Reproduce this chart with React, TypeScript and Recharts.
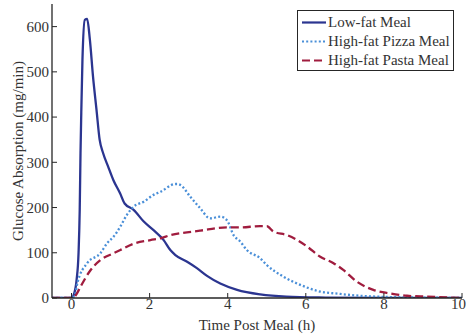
import React from "react";
import { LineChart, Line, XAxis, YAxis, Legend } from "recharts";

// Time after the meal (h) and glucose absorption rate (mg/min) for each meal
const lowFatTime = [-0.5, 0, 0.06, 0.13, 0.18, 0.21, 0.23, 0.25, 0.28, 0.34, 0.4, 0.47, 0.55, 0.64, 0.72, 0.81, 0.94, 1.07, 1.24, 1.36, 1.59, 1.85, 2.1, 2.36, 2.53, 2.66, 2.96, 3.21, 3.47, 3.81, 4.24, 4.83, 5.5, 6.5, 8, 10];
const lowFatRate = [0, 0, 8, 40, 100, 195, 320, 410, 527, 615, 617, 571, 490, 416, 350, 320, 290, 261, 232, 209, 195, 169, 150, 128, 106, 95, 80, 66, 49, 32, 18, 8, 3, 1, 0, 0];

const pizzaTime = [-0.5, 0, 0.08, 0.15, 0.4, 0.74, 0.91, 1.08, 1.25, 1.42, 1.59, 1.85, 2.1, 2.28, 2.66, 2.72, 2.79, 3.04, 3.3, 3.55, 3.81, 3.98, 4.15, 4.32, 4.49, 4.83, 5.0, 5.43, 5.86, 6.28, 6.88, 7.56, 8.2, 9, 10];
const pizzaRate = [0, 0, 5, 33, 77, 99, 121, 136, 158, 184, 202, 213, 228, 235, 252, 252, 250, 224, 198, 176, 180, 172, 139, 125, 106, 88, 73, 47, 29, 16, 9, 4, 2, 1, 0];

const pastaTime = [-0.5, 0.02, 0.1, 0.23, 0.49, 0.74, 1.08, 1.25, 1.59, 2.02, 2.28, 2.53, 3.13, 3.3, 3.98, 4.32, 4.83, 5.0, 5.17, 5.52, 6.03, 6.37, 6.71, 6.96, 7.31, 7.73, 8.16, 8.59, 9.1, 10];
const pastaRate = [0, 0, 5, 25, 62, 84, 99, 106, 120, 128, 132, 139, 147, 149, 156, 156, 159, 159, 147, 139, 114, 91, 77, 62, 36, 18, 10, 5, 3, 0];

const xTicks = [0, 2, 4, 6, 8, 10];
const yTicks = [0, 100, 200, 300, 400, 500, 600];

const seriesNames = ["Low-fat Meal", "High-fat Pizza Meal", "High-fat Pasta Meal"];

const toPoints = (t: number[], v: number[]) => t.map((time, i) => ({ time, rate: v[i] }));

const FONT = '"Liberation Serif", "Times New Roman", serif';
const TEXT = "#333333";
const FRAME = "#262626";

const series = [
  { name: seriesNames[0], data: toPoints(lowFatTime, lowFatRate), color: "#2b3590", dash: undefined as string | undefined },
  { name: seriesNames[1], data: toPoints(pizzaTime, pizzaRate), color: "#4a8fd8", dash: "2 2.2" },
  { name: seriesNames[2], data: toPoints(pastaTime, pastaRate), color: "#a01c3e", dash: "8 4" },
];

const tickStyle = { fontFamily: FONT, fontSize: 15, fill: TEXT };

function LegendBox() {
  return (
    <div
      style={{
        border: `1px solid ${FRAME}`,
        background: "#fff",
        width: 157,
        paddingTop: 1.5,
        paddingLeft: 4,
        boxSizing: "border-box",
        fontFamily: FONT,
        fontSize: 15,
        color: TEXT,
      }}
    >
      {series.map((s) => (
        <div key={s.name} style={{ display: "flex", alignItems: "center", height: 19, whiteSpace: "nowrap" }}>
          <svg width={24} height={19} style={{ display: "block" }}>
            <line x1={0} x2={24} y1={9.5} y2={9.5} stroke={s.color} strokeWidth={2.2} strokeDasharray={s.dash} />
          </svg>
          <span style={{ marginLeft: 2, lineHeight: "19px" }}>{s.name}</span>
        </div>
      ))}
    </div>
  );
}

export default function App() {
  return (
    <div style={{ position: "absolute", left: 0, top: 0 }}>
      <LineChart width={466} height={336} margin={{ top: 4, right: 4, left: 0, bottom: 0 }}>
        <XAxis
          dataKey="time"
          type="number"
          domain={[-0.5, 10]}
          ticks={xTicks}
          allowDataOverflow
          height={38}
          tickSize={-5}
          tickMargin={5}
          tick={tickStyle}
          axisLine={{ stroke: FRAME, strokeWidth: 1.3 }}
          tickLine={{ stroke: FRAME, strokeWidth: 1 }}
          label={({ viewBox }: any) => (
            <text
              x={viewBox.x + viewBox.width / 2}
              y={viewBox.y + 27}
              textAnchor="middle"
              dominantBaseline="central"
              style={{ fontFamily: FONT, fontSize: 15, fill: TEXT }}
            >
              Time Post Meal (h)
            </text>
          )}
        />
        <XAxis
          xAxisId="top"
          orientation="top"
          type="number"
          domain={[-0.5, 10]}
          ticks={xTicks}
          allowDataOverflow
          height={0}
          tickSize={-5}
          tick={false}
          axisLine={{ stroke: FRAME, strokeWidth: 1.3 }}
          tickLine={{ stroke: FRAME, strokeWidth: 1 }}
        />
        <YAxis
          type="number"
          domain={[0, 650]}
          ticks={yTicks}
          allowDataOverflow
          width={52}
          tickSize={-5}
          tickMargin={8}
          tick={tickStyle}
          axisLine={{ stroke: FRAME, strokeWidth: 1.3 }}
          tickLine={{ stroke: FRAME, strokeWidth: 1 }}
          label={({ viewBox }: any) => {
            const cx = viewBox.x + 18;
            const cy = viewBox.y + viewBox.height / 2;
            return (
              <text
                x={cx}
                y={cy}
                textAnchor="middle"
                dominantBaseline="central"
                transform={`rotate(-90 ${cx} ${cy})`}
                style={{ fontFamily: FONT, fontSize: 15, fill: TEXT }}
              >
                Glucose Absorption (mg/min)
              </text>
            );
          }}
        />
        <YAxis
          yAxisId="right"
          orientation="right"
          type="number"
          domain={[0, 650]}
          ticks={yTicks}
          allowDataOverflow
          width={0}
          tickSize={-5}
          tick={false}
          axisLine={{ stroke: FRAME, strokeWidth: 1.3 }}
          tickLine={{ stroke: FRAME, strokeWidth: 1 }}
        />
        {series.map((s) => (
          <Line
            key={s.name}
            name={s.name}
            data={s.data}
            dataKey="rate"
            type="monotoneX"
            stroke={s.color}
            strokeWidth={2.3}
            strokeDasharray={s.dash}
            dot={false}
            activeDot={false}
            isAnimationActive={false}
          />
        ))}
        <Legend
          layout="vertical"
          align="center"
          verticalAlign="middle"
          content={() => <LegendBox />}
          wrapperStyle={{ position: "absolute", left: 297, top: 10, width: 157 }}
        />
      </LineChart>
    </div>
  );
}
